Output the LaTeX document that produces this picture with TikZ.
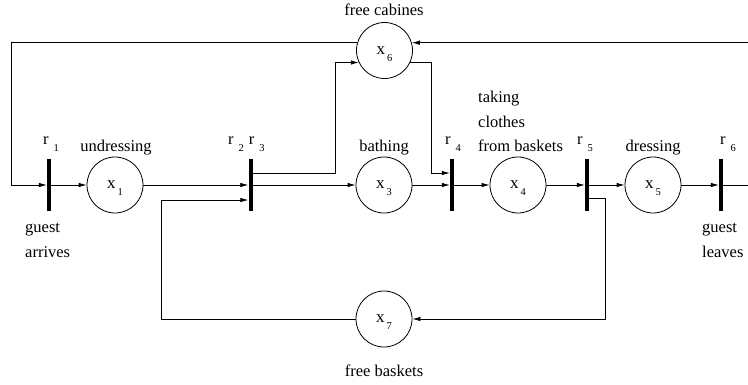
\documentclass[tikz,border=0pt]{standalone}
\usepackage{fontspec}
\setmainfont{Liberation Serif}
\usetikzlibrary{arrows.meta}
\newcommand{\lsub}[3]{#1\hspace{#3}\smash{\raisebox{-7pt}{\fontsize{10.5}{10.5}\selectfont #2}}}
\begin{document}
\begin{tikzpicture}[x=1pt,y=-1pt,
  place/.style={circle,draw,line width=0.8pt,minimum size=56pt,inner sep=0pt,font=\fontsize{17}{20}\selectfont},
  trans/.style={rectangle,fill=black,minimum width=4pt,minimum height=52pt,inner sep=0pt},
  lbl/.style={font=\fontsize{16.5}{20}\selectfont,inner sep=0pt,anchor=base},
  lblw/.style={lbl,anchor=base west},
  arc/.style={line width=0.8pt,-{Latex[length=8pt,width=4.5pt]}},
  plain/.style={line width=0.8pt}]
\useasboundingbox (0,0) rectangle (748,384);
% transitions
\node[trans] (r1) at (49,185) {};
\node[trans] (r2) at (250.5,185) {};
\node[trans] (r4) at (452,185) {};
\node[trans] (r5) at (587,185) {};
\node[trans] (r6) at (721,185) {};
% places
\node[place] (x1) at (115,185) {\lsub{x}{1}{2pt}};
\node[place] (x3) at (384,185) {\lsub{x}{3}{2pt}};
\node[place] (x4) at (518,185) {\lsub{x}{4}{2pt}};
\node[place] (x5) at (653,185) {\lsub{x}{5}{2pt}};
\node[place] (x6) at (384.5,50.5) {\lsub{x}{6}{2pt}};
\node[place] (x7) at (384,319) {\lsub{x}{7}{2pt}};
% helper coordinates
\coordinate (bl) at (11,185);
\coordinate (re) at (748,0);
\coordinate (c64) at (431,173);
\coordinate (c26) at (335,173);
\coordinate (c57) at (605,198);
\coordinate (c72) at (161,200);
% main chain
\draw[arc] (r1) -- (x1);
\draw[arc] (x1) -- (r2);
\draw[arc] (r2) -- (x3);
\draw[arc] (x3) -- (r4);
\draw[arc] (r4) -- (x4);
\draw[arc] (x4) -- (r5);
\draw[arc] (r5) -- (x5);
\draw[arc] (x5) -- (r6);
\draw[plain] (r6) -- (r6 -| re);
% cabins loop
\draw[arc] (x6.164) -| (bl) -- (r1);
\draw[arc] (x6.16 -| re) -- (x6.16);
\draw[arc] (c26 -| r2.east) -- (c26) |- (x6.205);
\draw[arc] (x6.-25) -| (c64) -- (c64 -| r4.west);
% baskets loop
\draw[arc] (c57 -| r5.east) -- (c57) |- (x7);
\draw[arc] (x7) -| (c72) -- (c72 -| r2.west);
% transition labels
\node[lblw] (lr1) at (43,144) {\lsub{r}{1}{5pt}};
\node[lblw] (lr2) at (228,144) {\lsub{r}{2}{5pt}\hspace{5pt}\lsub{r}{3}{5pt}};
\node[lblw] (lr4) at (445,144) {\lsub{r}{4}{5pt}};
\node[lblw] (lr5) at (577,144) {\lsub{r}{5}{5pt}};
\node[lblw] (lr6) at (720,144) {\lsub{r}{6}{5pt}};
% place labels
\node[lbl] (t1) at (116,151) {undressing};
\node[lbl] (t3) at (384,151) {bathing};
\node[lblw] (t4a) at (478,102) {taking};
\node[lblw] (t4b) at (478,127) {clothes};
\node[lblw] (t4c) at (478,151) {from baskets};
\node[lbl] (t5) at (653,151) {dressing};
\node[lbl] (t6) at (384,15) {free cabines};
\node[lbl] (t7) at (384,376) {free baskets};
\node[lblw] (ga1) at (25,232) {guest};
\node[lblw] (ga2) at (25,257) {arrives};
\node[lblw] (gl1) at (702,232) {guest};
\node[lblw] (gl2) at (702,257) {leaves};
\end{tikzpicture}
\end{document}
